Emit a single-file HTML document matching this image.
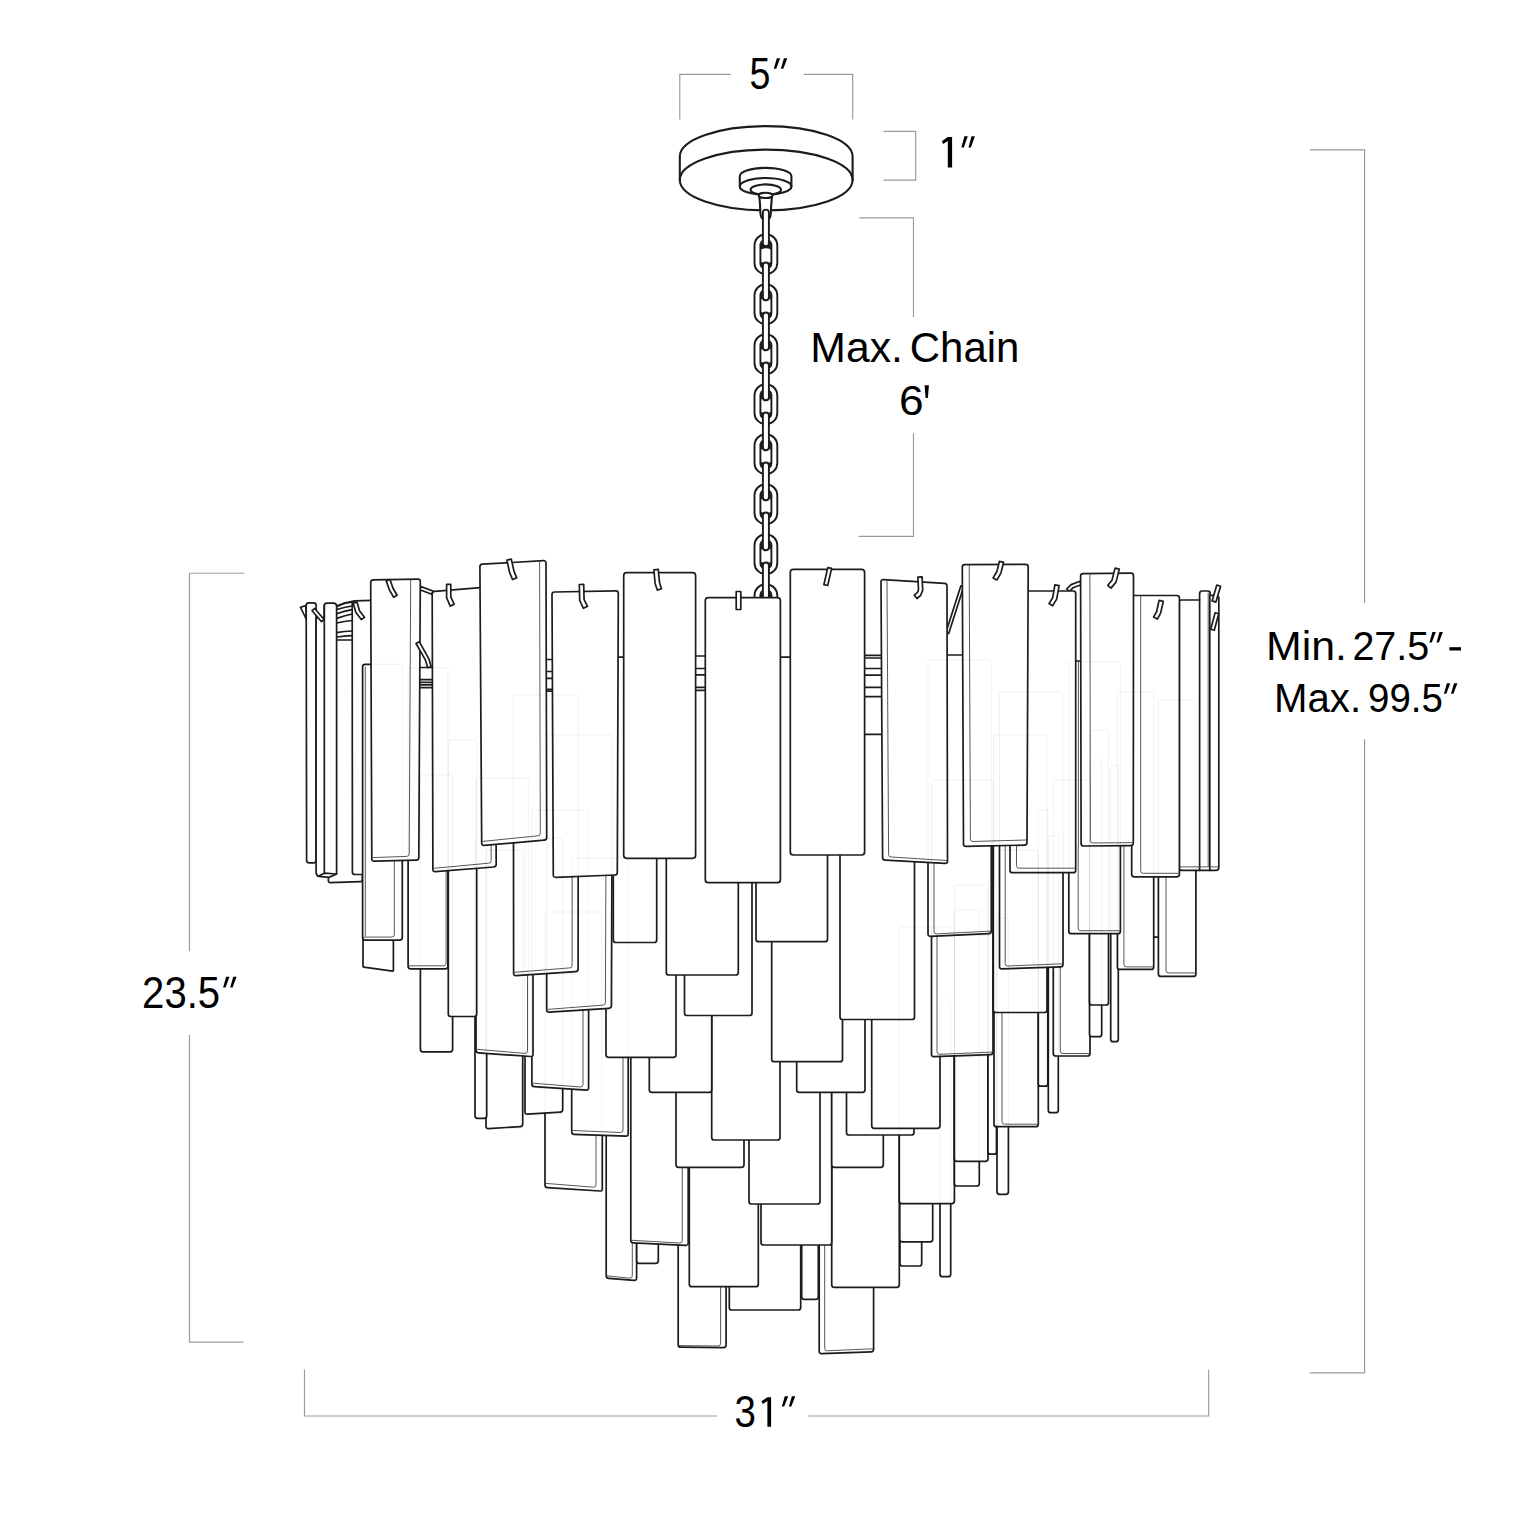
<!DOCTYPE html>
<html><head><meta charset="utf-8"><title>Chandelier dimensions</title>
<style>
html,body{margin:0;padding:0;background:#fff;}
body{width:1536px;height:1536px;overflow:hidden;}
svg{display:block;}
text{font-family:"Liberation Sans",sans-serif;fill:#000;}
.k{fill:#fff;stroke:#1c1c1c;stroke-width:1.7;stroke-linejoin:round;stroke-linecap:round;}
.n{fill:none;stroke:#1c1c1c;stroke-width:1.7;stroke-linejoin:round;stroke-linecap:round;}
.h{stroke-width:2.1;}
.h2{stroke-width:1.9;}
.f rect{fill:none;stroke:#000;stroke-opacity:0.055;stroke-width:1;}
.g{fill:none;stroke:#444;stroke-width:0.9;stroke-linecap:round;}
</style></head><body>
<svg width="1536" height="1536" viewBox="0 0 1536 1536">
<rect width="1536" height="1536" fill="#fff"/>
<!-- canopy -->
<path class="k h" d="M679.8,180 L679.8,156.5 A86.4,30.4 0 0 1 852.6,156.5 L852.6,180 A86.4,30.4 0 0 1 679.8,180Z"/>
<path class="n h" d="M679.8,180 A86.4,30.4 0 0 1 852.6,180"/>
<path class="k h" d="M739.8,186.4 L739.8,176.3 A25.8,8.4 0 0 1 791.4,176.3 L791.4,186.4 A25.8,8.4 0 0 1 739.8,186.4Z"/>
<path class="n h" d="M739.8,186.4 A25.8,8.4 0 0 1 791.4,186.4"/>
<path class="n h" d="M758.8,194.3 Q750.3,192.5 750.6,189.8 A15.2,5.4 0 0 1 781,189.8 Q781.2,192.5 772.6,194.3"/>
<path class="k h" d="M759.3,196.2 Q760.3,206 760.4,213 Q761,218.5 763,219 L768.5,219 Q770.6,218.5 770.8,213 Q771,206 772,196.2 Z"/>
<ellipse class="k h" cx="765.6" cy="195.4" rx="6.9" ry="2.6"/>
<!-- chain -->
<rect class="k h2" x="754.5" y="234.5" width="22.8" height="39.4" rx="10.5" ry="11"/>
<rect class="k h2" x="760.4" y="240.1" width="11" height="28.2" rx="4.5" ry="5"/>
<path d="M760.9,249.5 L760.9,244.0 Q761.3,241.5 763.3,240.8 L768.5,240.8 Q770.5,241.5 770.9,244.0 L770.9,249.5 Q765.9,247.1 760.9,249.5Z" fill="#1c1c1c"/>
<path d="M760.9,261.7 Q765.9,264.7 770.9,261.7 L770.9,264.9 L768.9,267.3 L762.9,267.3 L760.9,264.9Z" fill="#1c1c1c"/>
<rect class="k h2" x="754.5" y="284.5" width="22.8" height="39.4" rx="10.5" ry="11"/>
<rect class="k h2" x="760.4" y="290.1" width="11" height="28.2" rx="4.5" ry="5"/>
<path d="M760.9,299.5 L760.9,294.0 Q761.3,291.5 763.3,290.8 L768.5,290.8 Q770.5,291.5 770.9,294.0 L770.9,299.5 Q765.9,297.1 760.9,299.5Z" fill="#1c1c1c"/>
<path d="M760.9,311.7 Q765.9,314.7 770.9,311.7 L770.9,314.9 L768.9,317.3 L762.9,317.3 L760.9,314.9Z" fill="#1c1c1c"/>
<rect class="k h2" x="754.5" y="334.5" width="22.8" height="39.4" rx="10.5" ry="11"/>
<rect class="k h2" x="760.4" y="340.1" width="11" height="28.2" rx="4.5" ry="5"/>
<path d="M760.9,349.5 L760.9,344.0 Q761.3,341.5 763.3,340.8 L768.5,340.8 Q770.5,341.5 770.9,344.0 L770.9,349.5 Q765.9,347.1 760.9,349.5Z" fill="#1c1c1c"/>
<path d="M760.9,361.7 Q765.9,364.7 770.9,361.7 L770.9,364.9 L768.9,367.3 L762.9,367.3 L760.9,364.9Z" fill="#1c1c1c"/>
<rect class="k h2" x="754.5" y="384.5" width="22.8" height="39.4" rx="10.5" ry="11"/>
<rect class="k h2" x="760.4" y="390.1" width="11" height="28.2" rx="4.5" ry="5"/>
<path d="M760.9,399.5 L760.9,394.0 Q761.3,391.5 763.3,390.8 L768.5,390.8 Q770.5,391.5 770.9,394.0 L770.9,399.5 Q765.9,397.1 760.9,399.5Z" fill="#1c1c1c"/>
<path d="M760.9,411.7 Q765.9,414.7 770.9,411.7 L770.9,414.9 L768.9,417.3 L762.9,417.3 L760.9,414.9Z" fill="#1c1c1c"/>
<rect class="k h2" x="754.5" y="434.5" width="22.8" height="39.4" rx="10.5" ry="11"/>
<rect class="k h2" x="760.4" y="440.1" width="11" height="28.2" rx="4.5" ry="5"/>
<path d="M760.9,449.5 L760.9,444.0 Q761.3,441.5 763.3,440.8 L768.5,440.8 Q770.5,441.5 770.9,444.0 L770.9,449.5 Q765.9,447.1 760.9,449.5Z" fill="#1c1c1c"/>
<path d="M760.9,461.7 Q765.9,464.7 770.9,461.7 L770.9,464.9 L768.9,467.3 L762.9,467.3 L760.9,464.9Z" fill="#1c1c1c"/>
<rect class="k h2" x="754.5" y="484.5" width="22.8" height="39.4" rx="10.5" ry="11"/>
<rect class="k h2" x="760.4" y="490.1" width="11" height="28.2" rx="4.5" ry="5"/>
<path d="M760.9,499.5 L760.9,494.0 Q761.3,491.5 763.3,490.8 L768.5,490.8 Q770.5,491.5 770.9,494.0 L770.9,499.5 Q765.9,497.1 760.9,499.5Z" fill="#1c1c1c"/>
<path d="M760.9,511.7 Q765.9,514.7 770.9,511.7 L770.9,514.9 L768.9,517.3 L762.9,517.3 L760.9,514.9Z" fill="#1c1c1c"/>
<rect class="k h2" x="754.5" y="534.5" width="22.8" height="39.4" rx="10.5" ry="11"/>
<rect class="k h2" x="760.4" y="540.1" width="11" height="28.2" rx="4.5" ry="5"/>
<path d="M760.9,549.5 L760.9,544.0 Q761.3,541.5 763.3,540.8 L768.5,540.8 Q770.5,541.5 770.9,544.0 L770.9,549.5 Q765.9,547.1 760.9,549.5Z" fill="#1c1c1c"/>
<path d="M760.9,561.7 Q765.9,564.7 770.9,561.7 L770.9,564.9 L768.9,567.3 L762.9,567.3 L760.9,564.9Z" fill="#1c1c1c"/>
<rect class="k h2" x="754.5" y="584.5" width="22.8" height="39.4" rx="10.5" ry="11"/>
<rect class="k h2" x="760.4" y="590.1" width="11" height="28.2" rx="4.5" ry="5"/>
<path d="M760.9,599.5 L760.9,594.0 Q761.3,591.5 763.3,590.8 L768.5,590.8 Q770.5,591.5 770.9,594.0 L770.9,599.5 Q765.9,597.1 760.9,599.5Z" fill="#1c1c1c"/>
<path d="M760.9,611.7 Q765.9,614.7 770.9,611.7 L770.9,614.9 L768.9,617.3 L762.9,617.3 L760.9,614.9Z" fill="#1c1c1c"/>
<rect class="k h2" x="762.9" y="209.6" width="6.0" height="36.6" rx="3.0"/>
<rect class="k h2" x="762.9" y="262.5" width="6.0" height="37.8" rx="3.0"/>
<rect class="k h2" x="762.9" y="312.5" width="6.0" height="37.8" rx="3.0"/>
<rect class="k h2" x="762.9" y="362.5" width="6.0" height="37.8" rx="3.0"/>
<rect class="k h2" x="762.9" y="412.5" width="6.0" height="37.8" rx="3.0"/>
<rect class="k h2" x="762.9" y="462.5" width="6.0" height="37.8" rx="3.0"/>
<rect class="k h2" x="762.9" y="512.5" width="6.0" height="37.8" rx="3.0"/>
<rect class="k h2" x="762.9" y="562.5" width="6.0" height="39.5" rx="3.0"/>
<!-- left edge group -->
<path class="k" d="M328.4,642.0Q328.4,640.0 330.4,640.0L360.4,640.0Q362.4,640.0 362.4,642.0L362.4,879.5Q362.4,881.5 360.4,881.6L330.4,882.6Q328.4,882.7 328.4,880.7Z"/>
<path class="k" d="M363.0,700.8Q363.0,700.0 363.8,700.0L392.6,700.0Q393.4,700.0 393.4,700.8L393.4,970.4Q393.4,971.2 392.6,971.1L363.8,967.1Q363.0,967.0 363.0,966.2Z"/>
<path class="k" d="M352.2,603.4Q352.2,600.9 354.7,600.8L372.5,600.4Q375.0,600.3 375.0,602.8L375.0,872.0Q375.0,874.5 372.5,874.5L354.9,874.5Q352.4,874.5 352.4,872.0Z"/>
<!-- D39 -->
<path class="k" d="M819.2,1078.5Q819.2,1076.0 821.7,1076.0L871.1,1076.0Q873.6,1076.0 873.6,1078.5L873.6,1349.3Q873.6,1351.8 871.1,1351.9L821.7,1353.7Q819.2,1353.8 819.2,1351.3Z"/>
<path class="g" d="M824.7,1077.0L824.7,1348.3Q824.7,1350.8 827.2,1350.8L872.6,1348.8"/>
<!-- D36 -->
<path class="k" d="M678.2,1072.5Q678.2,1070.0 680.7,1070.0L723.6,1070.0Q726.1,1070.0 726.1,1072.5L726.1,1345.1Q726.1,1347.6 723.6,1347.6L680.7,1347.2Q678.2,1347.2 678.2,1344.7Z"/>
<path class="g" d="M720.6,1071.0L720.6,1343.5Q720.6,1346.0 718.1,1346.0L679.2,1345.6"/>
<!-- D37 -->
<path class="k" d="M729.3,1037.5Q729.3,1035.0 731.8,1035.0L798.2,1035.0Q800.7,1035.0 800.7,1037.5L800.7,1307.5Q800.7,1310.0 798.2,1310.0L731.8,1310.0Q729.3,1310.0 729.3,1307.5Z"/>
<!-- D38 -->
<path class="k" d="M801.7,1024.5Q801.7,1022.0 804.2,1022.0L815.8,1022.0Q818.3,1022.0 818.3,1024.5L818.3,1296.8Q818.3,1299.3 815.8,1299.3L804.2,1299.3Q801.7,1299.3 801.7,1296.8Z"/>
<!-- F12 -->
<path class="k" d="M831.7,1012.5Q831.7,1010.0 834.2,1010.0L896.8,1010.0Q899.3,1010.0 899.3,1012.5L899.3,1284.8Q899.3,1287.3 896.8,1287.3L834.2,1287.3Q831.7,1287.3 831.7,1284.8Z"/>
<!-- D34 -->
<path class="k" d="M689.3,1012.5Q689.3,1010.0 691.8,1010.0L755.8,1010.0Q758.3,1010.0 758.3,1012.5L758.3,1284.2Q758.3,1286.7 755.8,1286.7L691.8,1286.7Q689.3,1286.7 689.3,1284.2Z"/>
<!-- D31 -->
<path class="k" d="M606.2,1002.5Q606.2,1000.0 608.7,1000.0L634.1,1000.0Q636.6,1000.0 636.6,1002.5L636.6,1278.0Q636.6,1280.5 634.1,1280.3L608.7,1278.4Q606.2,1278.2 606.2,1275.7Z"/>
<path class="g" d="M632.3,1001.0L632.3,1275.7Q632.3,1278.2 629.8,1278.2L607.2,1275.9"/>
<!-- F20 -->
<path class="k" d="M940.0,1002.5Q940.0,1000.0 942.5,1000.0L948.2,1000.0Q950.7,1000.0 950.7,1002.5L950.7,1274.2Q950.7,1276.7 948.2,1276.7L942.5,1276.7Q940.0,1276.7 940.0,1274.2Z"/>
<!-- F19 -->
<path class="k" d="M900.0,992.5Q900.0,990.0 902.5,990.0L919.2,990.0Q921.7,990.0 921.7,992.5L921.7,1263.5Q921.7,1266.0 919.2,1266.0L902.5,1266.0Q900.0,1266.0 900.0,1263.5Z"/>
<!-- D33 -->
<path class="k" d="M636.7,987.5Q636.7,985.0 639.2,985.0L655.8,985.0Q658.3,985.0 658.3,987.5L658.3,1260.8Q658.3,1263.3 655.8,1263.3L639.2,1263.3Q636.7,1263.3 636.7,1260.8Z"/>
<!-- D35 -->
<path class="k" d="M761.0,970.5Q761.0,968.0 763.5,968.0L829.2,968.0Q831.7,968.0 831.7,970.5L831.7,1242.5Q831.7,1245.0 829.2,1245.0L763.5,1245.0Q761.0,1245.0 761.0,1242.5Z"/>
<!-- D32 -->
<path class="k" d="M630.8,968.5Q630.8,966.0 633.3,966.0L685.7,966.0Q688.2,966.0 688.2,968.5L688.2,1242.9Q688.2,1245.4 685.7,1245.3L633.3,1242.8Q630.8,1242.7 630.8,1240.2Z"/>
<path class="g" d="M682.3,967.0L682.3,1240.5Q682.3,1243.0 679.8,1243.0L631.8,1240.3"/>
<!-- F18 -->
<path class="k" d="M899.8,965.5Q899.8,963.0 902.3,963.0L930.2,963.0Q932.7,963.0 932.7,965.5L932.7,1239.3Q932.7,1241.8 930.2,1241.8L902.3,1241.8Q899.8,1241.8 899.8,1239.3Z"/>
<!-- D27 -->
<path class="k" d="M749.0,928.5Q749.0,926.0 751.5,926.0L817.5,926.0Q820.0,926.0 820.0,928.5L820.0,1201.5Q820.0,1204.0 817.5,1204.0L751.5,1204.0Q749.0,1204.0 749.0,1201.5Z"/>
<!-- F13 -->
<path class="k" d="M899.3,929.5Q899.3,927.0 901.8,927.0L951.9,927.0Q954.4,927.0 954.4,929.5L954.4,1201.1Q954.4,1203.6 951.9,1203.6L901.8,1203.6Q899.3,1203.6 899.3,1201.1Z"/>
<!-- F23 -->
<path class="k" d="M997.0,920.5Q997.0,918.0 999.5,918.0L1005.9,918.0Q1008.4,918.0 1008.4,920.5L1008.4,1191.8Q1008.4,1194.3 1005.9,1194.3L999.5,1194.3Q997.0,1194.3 997.0,1191.8Z"/>
<!-- D14 -->
<path class="k" d="M545.0,914.5Q545.0,912.0 547.5,912.0L599.8,912.0Q602.3,912.0 602.3,914.5L602.3,1188.7Q602.3,1191.2 599.8,1191.0L547.5,1187.6Q545.0,1187.4 545.0,1184.9Z"/>
<path class="g" d="M596.0,913.0L596.0,1184.7Q596.0,1187.2 593.5,1187.2L546.0,1183.4"/>
<!-- F17 -->
<path class="k" d="M954.4,912.5Q954.4,910.0 956.9,910.0L976.8,910.0Q979.3,910.0 979.3,912.5L979.3,1183.5Q979.3,1186.0 976.8,1186.0L956.9,1186.0Q954.4,1186.0 954.4,1183.5Z"/>
<!-- D26 -->
<path class="k" d="M676.0,892.5Q676.0,890.0 678.5,890.0L741.5,890.0Q744.0,890.0 744.0,892.5L744.0,1164.8Q744.0,1167.3 741.5,1167.3L678.5,1167.3Q676.0,1167.3 676.0,1164.8Z"/>
<!-- D29 -->
<path class="k" d="M831.7,892.5Q831.7,890.0 834.2,890.0L880.8,890.0Q883.3,890.0 883.3,892.5L883.3,1164.8Q883.3,1167.3 880.8,1167.3L834.2,1167.3Q831.7,1167.3 831.7,1164.8Z"/>
<!-- F16 -->
<path class="k" d="M954.4,887.5Q954.4,885.0 956.9,885.0L985.5,885.0Q988.0,885.0 988.0,887.5L988.0,1158.8Q988.0,1161.3 985.5,1161.3L956.9,1161.3Q954.4,1161.3 954.4,1158.8Z"/>
<!-- F16b -->
<path class="k" d="M988.0,882.5Q988.0,880.0 990.5,880.0L994.0,880.0Q996.5,880.0 996.5,882.5L996.5,1151.7Q996.5,1154.2 994.0,1154.2L990.5,1154.2Q988.0,1154.2 988.0,1151.7Z"/>
<!-- D24 -->
<path class="k" d="M711.7,864.5Q711.7,862.0 714.2,862.0L777.5,862.0Q780.0,862.0 780.0,864.5L780.0,1137.5Q780.0,1140.0 777.5,1140.0L714.2,1140.0Q711.7,1140.0 711.7,1137.5Z"/>
<!-- D13 -->
<path class="k" d="M571.7,860.5Q571.7,858.0 574.2,858.0L625.7,858.0Q628.2,858.0 628.2,860.5L628.2,1133.7Q628.2,1136.2 625.7,1136.1L574.2,1134.3Q571.7,1134.2 571.7,1131.7Z"/>
<path class="g" d="M623.0,859.0L623.0,1130.0Q623.0,1132.5 620.5,1132.5L572.7,1130.5"/>
<!-- D28 -->
<path class="k" d="M846.5,860.5Q846.5,858.0 849.0,858.0L911.5,858.0Q914.0,858.0 914.0,860.5L914.0,1132.5Q914.0,1135.0 911.5,1135.0L849.0,1135.0Q846.5,1135.0 846.5,1132.5Z"/>
<!-- D7 -->
<path class="k" d="M486.0,852.5Q486.0,850.0 488.5,850.0L520.2,850.0Q522.7,850.0 522.7,852.5L522.7,1123.9Q522.7,1126.4 520.2,1126.6L488.5,1128.6Q486.0,1128.8 486.0,1126.3Z"/>
<!-- D30 -->
<path class="k" d="M871.7,853.5Q871.7,851.0 874.2,851.0L937.5,851.0Q940.0,851.0 940.0,853.5L940.0,1125.8Q940.0,1128.3 937.5,1128.3L874.2,1128.3Q871.7,1128.3 871.7,1125.8Z"/>
<!-- F22 -->
<path class="k" d="M994.0,852.5Q994.0,850.0 996.5,850.0L1035.8,850.0Q1038.3,850.0 1038.3,852.5L1038.3,1124.2Q1038.3,1126.7 1035.8,1126.7L996.5,1126.7Q994.0,1126.7 994.0,1124.2Z"/>
<path class="g" d="M1002.0,851.0L1002.0,1121.7Q1002.0,1124.2 1004.5,1124.2L1037.3,1124.2"/>
<!-- D6 -->
<path class="k" d="M475.0,842.5Q475.0,840.0 477.5,840.0L484.2,840.0Q486.7,840.0 486.7,842.5L486.7,1115.8Q486.7,1118.3 484.2,1118.3L477.5,1118.3Q475.0,1118.3 475.0,1115.8Z"/>
<!-- D12 -->
<path class="k" d="M525.0,840.5Q525.0,838.0 527.5,838.0L560.2,838.0Q562.7,838.0 562.7,840.5L562.7,1109.5Q562.7,1112.0 560.2,1112.2L527.5,1114.2Q525.0,1114.4 525.0,1111.9Z"/>
<!-- F26 -->
<path class="k" d="M1048.3,838.5Q1048.3,836.0 1050.8,836.0L1055.8,836.0Q1058.3,836.0 1058.3,838.5L1058.3,1110.2Q1058.3,1112.7 1055.8,1112.7L1050.8,1112.7Q1048.3,1112.7 1048.3,1110.2Z"/>
<!-- D23 -->
<path class="k" d="M649.3,817.5Q649.3,815.0 651.8,815.0L709.2,815.0Q711.7,815.0 711.7,817.5L711.7,1089.8Q711.7,1092.3 709.2,1092.3L651.8,1092.3Q649.3,1092.3 649.3,1089.8Z"/>
<!-- D25 -->
<path class="k" d="M796.7,817.5Q796.7,815.0 799.2,815.0L862.5,815.0Q865.0,815.0 865.0,817.5L865.0,1089.8Q865.0,1092.3 862.5,1092.3L799.2,1092.3Q796.7,1092.3 796.7,1089.8Z"/>
<!-- D11 -->
<path class="k" d="M531.8,812.5Q531.8,810.0 534.3,810.0L586.2,810.0Q588.7,810.0 588.7,812.5L588.6,1087.8Q588.6,1090.3 586.1,1090.1L534.4,1086.7Q531.9,1086.5 531.9,1084.0Z"/>
<path class="g" d="M583.1,811.0L583.0,1084.5Q583.0,1087.0 580.5,1087.0L532.9,1083.2"/>
<!-- F25 -->
<path class="k" d="M1038.3,812.5Q1038.3,810.0 1040.8,810.0L1045.3,810.0Q1047.8,810.0 1047.8,812.5L1047.8,1083.7Q1047.8,1086.2 1045.3,1086.2L1040.8,1086.2Q1038.3,1086.2 1038.3,1083.7Z"/>
<!-- D21 -->
<path class="k" d="M771.7,786.5Q771.7,784.0 774.2,784.0L840.0,784.0Q842.5,784.0 842.5,786.5L842.5,1059.2Q842.5,1061.7 840.0,1061.7L774.2,1061.7Q771.7,1061.7 771.7,1059.2Z"/>
<!-- D16 -->
<path class="k" d="M606.0,782.5Q606.0,780.0 608.5,780.0L673.5,780.0Q676.0,780.0 676.0,782.5L676.0,1054.8Q676.0,1057.3 673.5,1057.3L608.5,1057.3Q606.0,1057.3 606.0,1054.8Z"/>
<!-- C4 -->
<path class="k" d="M931.5,782.5Q931.5,780.0 934.0,780.0L990.5,780.0Q993.0,780.0 993.0,782.5L993.0,1052.1Q993.0,1054.6 990.5,1054.7L934.0,1056.7Q931.5,1056.8 931.5,1054.3Z"/>
<path class="g" d="M937.0,781.0L937.0,1051.8Q937.0,1054.3 939.5,1054.3L992.0,1052.1"/>
<!-- F27 -->
<path class="k" d="M1053.3,782.5Q1053.3,780.0 1055.8,780.0L1087.5,780.0Q1090.0,780.0 1090.0,782.5L1090.0,1053.5Q1090.0,1056.0 1087.5,1056.0L1055.8,1056.0Q1053.3,1056.0 1053.3,1053.5Z"/>
<path class="g" d="M1060.3,781.0L1060.3,1051.0Q1060.3,1053.5 1062.8,1053.5L1089.0,1053.5"/>
<!-- B5 -->
<path class="k" d="M476.0,780.5Q476.0,778.0 478.5,778.0L530.5,778.0Q533.0,778.0 533.0,780.5L533.0,1054.2Q533.0,1056.7 530.5,1056.5L478.5,1052.8Q476.0,1052.6 476.0,1050.1Z"/>
<path class="g" d="M527.5,779.0L527.5,1050.9Q527.5,1053.4 525.0,1053.4L477.0,1049.3"/>
<!-- B3 -->
<path class="k" d="M420.4,777.5Q420.4,775.0 422.9,775.0L450.1,775.0Q452.6,775.0 452.6,777.5L452.6,1049.3Q452.6,1051.8 450.1,1051.8L422.9,1051.8Q420.4,1051.8 420.4,1049.3Z"/>
<!-- F31 -->
<path class="k" d="M1110.7,767.5Q1110.7,765.0 1113.2,765.0L1115.8,765.0Q1118.3,765.0 1118.3,767.5L1118.3,1039.2Q1118.3,1041.7 1115.8,1041.7L1113.2,1041.7Q1110.7,1041.7 1110.7,1039.2Z"/>
<!-- F30 -->
<path class="k" d="M1089.5,762.5Q1089.5,760.0 1092.0,760.0L1099.2,760.0Q1101.7,760.0 1101.7,762.5L1101.7,1034.2Q1101.7,1036.7 1099.2,1036.7L1092.0,1036.7Q1089.5,1036.7 1089.5,1034.2Z"/>
<!-- C2 -->
<path class="k" d="M840.0,744.5Q840.0,742.0 842.5,742.0L912.0,742.0Q914.5,742.0 914.5,744.5L914.5,1017.0Q914.5,1019.5 912.0,1019.5L842.5,1019.5Q840.0,1019.5 840.0,1017.0Z"/>
<!-- B4 -->
<path class="k" d="M448.3,742.5Q448.3,740.0 450.8,740.0L474.2,740.0Q476.7,740.0 476.7,742.5L476.7,1014.0Q476.7,1016.5 474.2,1016.5L450.8,1016.5Q448.3,1016.5 448.3,1014.0Z"/>
<!-- B10 -->
<path class="k" d="M684.5,740.5Q684.5,738.0 687.0,738.0L749.5,738.0Q752.0,738.0 752.0,740.5L752.0,1013.0Q752.0,1015.5 749.5,1015.5L687.0,1015.5Q684.5,1015.5 684.5,1013.0Z"/>
<!-- C9 -->
<path class="k" d="M993.3,737.5Q993.3,735.0 995.8,735.0L1044.5,735.0Q1047.0,735.0 1047.0,737.5L1047.0,1010.0Q1047.0,1012.5 1044.5,1012.5L995.8,1012.5Q993.3,1012.5 993.3,1010.0Z"/>
<!-- B7 -->
<path class="k" d="M546.7,737.5Q546.7,735.0 549.2,735.0L609.9,735.0Q612.4,735.0 612.4,737.5L611.4,1005.6Q611.4,1008.1 608.9,1008.3L549.2,1012.2Q546.7,1012.4 546.7,1009.9Z"/>
<path class="g" d="M606.4,736.0L605.4,1002.6Q605.4,1005.1 602.9,1005.1L547.7,1009.4"/>
<!-- F29 -->
<path class="k" d="M1089.5,732.5Q1089.5,730.0 1092.0,730.0L1106.0,730.0Q1108.5,730.0 1108.5,732.5L1108.5,1002.5Q1108.5,1005.0 1106.0,1005.0L1092.0,1005.0Q1089.5,1005.0 1089.5,1002.5Z"/>
<!-- C8 -->
<path class="k" d="M1158.4,702.5Q1158.4,700.0 1160.9,700.0L1193.4,700.0Q1195.9,700.0 1195.9,702.5L1195.9,973.9Q1195.9,976.4 1193.4,976.4L1160.9,976.4Q1158.4,976.4 1158.4,973.9Z"/>
<path class="g" d="M1166.0,701.0L1166.0,970.4Q1166.0,972.9 1168.5,972.9L1194.9,972.9"/>
<!-- B9 -->
<path class="k" d="M666.3,700.5Q666.3,698.0 668.8,698.0L735.8,698.0Q738.3,698.0 738.3,700.5L738.3,972.5Q738.3,975.0 735.8,975.0L668.8,975.0Q666.3,975.0 666.3,972.5Z"/>
<!-- B6 -->
<path class="k" d="M513.4,697.5Q513.4,695.0 515.9,695.0L575.8,695.0Q578.3,695.0 578.3,697.5L578.1,968.9Q578.1,971.4 575.6,971.6L516.1,975.6Q513.6,975.8 513.6,973.3Z"/>
<path class="g" d="M572.3,696.0L572.1,965.4Q572.1,967.9 569.6,967.9L514.6,972.3"/>
<!-- C7 -->
<path class="k" d="M1117.4,694.5Q1117.4,692.0 1119.9,692.0L1151.2,692.0Q1153.7,692.0 1153.7,694.5L1153.7,966.9Q1153.7,969.4 1151.2,969.4L1119.9,969.4Q1117.4,969.4 1117.4,966.9Z"/>
<path class="g" d="M1123.9,693.0L1123.9,964.4Q1123.9,966.9 1126.4,966.9L1152.7,966.9"/>
<!-- B2 -->
<path class="k" d="M408.1,670.0Q408.1,667.5 410.6,667.5L445.4,667.5Q447.9,667.5 447.9,670.0L447.9,966.3Q447.9,968.8 445.4,968.8L410.6,968.8Q408.1,968.8 408.1,966.3Z"/>
<path class="g" d="M446.1,668.5L446.1,963.3Q446.1,965.8 443.6,965.8L409.1,965.8"/>
<!-- C5 -->
<path class="k" d="M999.5,694.5Q999.5,692.0 1002.0,692.0L1060.5,692.0Q1063.0,692.0 1063.0,694.5L1063.0,964.3Q1063.0,966.8 1060.5,966.9L1002.0,968.9Q999.5,969.0 999.5,966.5Z"/>
<path class="g" d="M1005.2,693.0L1005.2,963.5Q1005.2,966.0 1007.7,966.0L1062.0,963.8"/>
<!-- B8 -->
<path class="k" d="M613.3,667.5Q613.3,665.0 615.8,665.0L654.2,665.0Q656.7,665.0 656.7,667.5L656.7,940.0Q656.7,942.5 654.2,942.5L615.8,942.5Q613.3,942.5 613.3,940.0Z"/>
<!-- C1 -->
<path class="k" d="M756.0,666.5Q756.0,664.0 758.5,664.0L825.0,664.0Q827.5,664.0 827.5,666.5L827.5,939.2Q827.5,941.7 825.0,941.7L758.5,941.7Q756.0,941.7 756.0,939.2Z"/>
<!-- B1 -->
<path class="k" d="M362.6,666.8Q362.6,664.3 365.1,664.3L399.8,664.3Q402.3,664.3 402.3,666.8L402.3,937.6Q402.3,940.1 399.8,940.1L365.1,940.1Q362.6,940.1 362.6,937.6Z"/>
<path class="g" d="M394.3,665.3L394.3,934.6Q394.3,937.1 391.8,937.1L363.6,937.1"/>
<!-- C3 -->
<path class="k" d="M928.0,662.5Q928.0,660.0 930.5,660.0L988.8,660.0Q991.3,660.0 991.3,662.5L991.3,931.1Q991.3,933.6 988.8,933.7L930.5,936.3Q928.0,936.4 928.0,933.9Z"/>
<path class="g" d="M934.0,661.0L934.0,931.4Q934.0,933.9 936.5,933.9L990.3,931.1"/>
<!-- C6 -->
<path class="k" d="M1068.8,664.5Q1068.8,662.0 1071.3,662.0L1117.9,662.0Q1120.4,662.0 1120.4,664.5L1120.4,931.2Q1120.4,933.7 1117.9,933.7L1071.3,933.7Q1068.8,933.7 1068.8,931.2Z"/>
<path class="g" d="M1078.2,663.0L1078.2,928.2Q1078.2,930.7 1080.7,930.7L1119.4,930.7"/>
<path class="n" d="M1153.9,937.2L1158.2,937.2"/>
<path class="g" d="M365.3,667.0L365.3,936.0"/>
<!-- left frame bars -->
<path class="n" d="M336.8,609.5 Q344,607.1 352,606.0"/>
<path class="n" d="M336.8,613.8 Q344,611.1 352,609.6"/>
<path class="n" d="M336.8,618.4 Q344,615.6 352,614.0"/>
<path class="n" d="M336.8,623.0 Q344,621.1 352,620.5"/>
<path class="n" d="M336.8,632.6 Q344,631.2 352,631.0"/>
<path class="n" d="M336.8,637.0 Q344,635.7 352,635.6"/>
<path class="n" d="M336.8,606.2 Q344,602.6 352.4,601.6" style="stroke-width:2.2"/>
<path class="k" d="M306.2,605.3Q306.2,602.8 308.7,602.8L313.6,602.8Q316.1,602.8 316.1,605.3L316.1,860.3Q316.1,862.8 313.6,862.8L309.1,862.8Q306.6,862.8 306.6,860.3Z"/>
<path class="k" d="M316.1,618 L316.1,872 Q316.2,875.6 318.5,876.4 L329,877.4 L336.6,874 L336.6,606 Q336.4,603.2 333.5,603.2 L327,603.2 Q324.2,603.3 324.2,606 L324.2,618Z"/>
<path class="n" d="M324.3,606.0L324.3,873.2"/>
<path class="n" d="M318.5,876.2L324.3,873.2L336.4,874.0"/>
<polygon class="k" points="300.4,607.2 305.8,605.6 306.2,619"/>
<polygon class="k" points="312.1,610.7 321.5,621.7 324.1,619.5 314.7,608.5"/>
<!-- gaps -->
<rect x="420.3" y="640.0" width="12.3" height="220.0" fill="#fff"/>
<path class="n" d="M420.3,667.5L432.6,667.5"/>
<path class="n" d="M420.3,679.6L432.6,679.6"/>
<path class="n" d="M420.3,682.4L432.6,682.4"/>
<path class="n" d="M420.3,684.8L432.6,684.8"/>
<path class="n" d="M420.3,687.6L432.6,687.6"/>
<rect x="546.3" y="600.0" width="5.9" height="240.0" fill="#fff"/>
<path class="n" d="M546.3,659.5L552.2,659.5"/>
<path class="n" d="M546.3,671.5L552.2,671.5"/>
<path class="n" d="M546.3,678.3L552.2,678.3"/>
<path class="n" d="M546.3,689.4L552.2,689.4"/>
<path class="n" d="M546.3,691.2L552.2,691.2"/>
<rect x="617.2" y="600.0" width="6.4" height="258.0" fill="#fff"/>
<path class="n" d="M617.2,657.2L623.6,657.2"/>
<rect x="695.5" y="605.0" width="9.8" height="253.0" fill="#fff"/>
<path class="n" d="M695.5,656.0L705.3,656.0"/>
<path class="n" d="M695.5,668.5L705.3,668.5"/>
<path class="n" d="M695.5,674.8L705.3,674.8"/>
<path class="n" d="M695.5,687.3L705.3,687.3"/>
<path class="n" d="M695.5,690.4L705.3,690.4"/>
<rect x="780.4" y="605.0" width="10.0" height="250.0" fill="#fff"/>
<path class="n" d="M780.4,657.2L790.4,657.2"/>
<rect x="864.5" y="590.0" width="16.7" height="265.0" fill="#fff"/>
<path class="n" d="M864.5,655.4L881.2,655.4"/>
<path class="n" d="M864.5,658.0L881.2,658.0"/>
<path class="n" d="M864.5,668.5L881.2,668.5"/>
<path class="n" d="M864.5,675.2L881.2,675.2"/>
<path class="n" d="M864.5,687.3L881.2,687.3"/>
<path class="n" d="M864.5,696.7L881.2,696.7"/>
<path class="n" d="M864.5,734.4L881.2,734.4"/>
<rect x="947.4" y="590.0" width="15.0" height="256.0" fill="#fff"/>
<path class="n" d="M947.4,655.0L962.4,655.0"/>
<rect x="1075.6" y="595.0" width="5.1" height="251.0" fill="#fff"/>
<path class="n" d="M1075.6,661.0L1080.7,661.0"/>
<path class="g" d="M1078.4,661.0L1078.4,846.0"/>
<polygon class="k" points="419.8,589.8 431.8,594.2 433.0,591.0 421.0,586.6"/>
<polygon class="k" points="960.8,586.0 945.9,632.5 948.7,633.5 963.6,587.0"/>
<polygon class="k" points="1069.3,591.6 1072.9,587.8 1081.2,584.7 1080.0,581.3 1071.1,584.6 1066.7,589.0"/>
<!-- top row -->
<path class="k" d="M432.2,594.1Q432.2,591.6 434.7,591.4L492.5,586.6Q495.0,586.4 495.0,588.9L496.2,864.3Q496.2,866.8 493.7,867.0L435.4,871.7Q432.9,871.9 432.9,869.4Z"/>
<path class="g" d="M490.0,587.4L491.2,860.7Q491.2,863.2 488.7,863.2L433.9,868.3"/>
<path class="k" d="M370.7,582.5Q370.7,580.0 373.2,579.9L417.8,579.1Q420.3,579.0 420.3,581.5L418.8,857.5Q418.8,860.0 416.3,860.1L374.3,861.1Q371.8,861.2 371.8,858.7Z"/>
<path class="g" d="M410.7,580.0L409.2,853.9Q409.2,856.4 406.7,856.4L372.8,857.6"/>
<path class="k" d="M479.9,566.8Q479.9,564.3 482.4,564.2L543.5,560.7Q546.0,560.6 546.0,563.1L546.7,837.5Q546.7,840.0 544.2,840.2L484.2,845.4Q481.7,845.6 481.7,843.1Z"/>
<path class="g" d="M539.6,561.6L540.3,833.3Q540.3,835.8 537.8,835.8L482.7,841.4"/>
<path class="k" d="M552.0,594.5Q552.0,592.0 554.5,592.0L615.8,590.8Q618.3,590.8 618.3,593.3L617.3,872.4Q617.3,874.9 614.8,875.0L555.8,877.3Q553.3,877.4 553.3,874.9Z"/>
<path class="k" d="M623.7,575.7Q623.7,572.7 626.7,572.7L692.6,572.7Q695.6,572.7 695.6,575.7L695.6,855.3Q695.6,858.3 692.6,858.3L626.7,858.3Q623.7,858.3 623.7,855.3Z"/>
<path class="k" d="M705.3,600.7Q705.3,597.7 708.3,597.7L777.4,597.7Q780.4,597.7 780.4,600.7L780.4,879.7Q780.4,882.7 777.4,882.7L708.3,882.7Q705.3,882.7 705.3,879.7Z"/>
<path class="k" d="M790.3,572.4Q790.3,569.4 793.3,569.4L861.6,569.4Q864.6,569.4 864.6,572.4L864.6,852.0Q864.6,855.0 861.6,855.0L793.3,855.0Q790.3,855.0 790.3,852.0Z"/>
<path class="k" d="M881.0,581.9Q881.0,579.4 883.5,579.6L944.5,583.4Q947.0,583.6 947.0,586.1L947.5,861.0Q947.5,863.5 945.0,863.4L885.1,860.1Q882.6,860.0 882.6,857.5Z"/>
<path class="g" d="M887.0,580.4L888.6,854.5Q888.6,857.0 891.1,857.0L946.5,860.5"/>
<path class="k" d="M1010.0,593.5Q1010.0,591.0 1012.5,591.0L1073.2,591.0Q1075.7,591.0 1075.7,593.5L1075.7,870.2Q1075.7,872.7 1073.2,872.7L1012.5,872.7Q1010.0,872.7 1010.0,870.2Z"/>
<path class="g" d="M1016.5,592.0L1016.5,865.7Q1016.5,868.2 1019.0,868.2L1074.7,868.2"/>
<path class="k" d="M962.3,567.1Q962.3,564.6 964.8,564.6L1025.7,564.4Q1028.2,564.4 1028.2,566.9L1027.0,842.5Q1027.0,845.0 1024.5,845.1L966.0,846.4Q963.5,846.5 963.5,844.0Z"/>
<path class="g" d="M969.2,565.6L970.4,839.0Q970.4,841.5 972.9,841.5L1026.0,840.0"/>
<path class="k" d="M1179.3,602 Q1179.3,600 1181.3,600 L1199.6,600 L1199.6,593.6 Q1199.7,591 1202.2,591 L1207.8,591 Q1210.2,591 1210.2,593.4 L1210.2,595.3 L1216.3,595.3 Q1218.8,595.4 1218.8,598 L1218.8,867.8 Q1218.7,870.4 1216.2,870.4 L1181.8,870.4 Q1179.3,870.4 1179.3,868 Z"/>
<path class="n" d="M1199.6,600.0L1199.6,870.4"/>
<path class="n" d="M1209.8,595.3L1209.8,870.4"/>
<path class="g" d="M1208.2,593.0L1208.2,866.5"/>
<path class="g" d="M1180.3,866.9L1217.8,866.9"/>
<path class="k" d="M1131.7,598.0Q1131.7,595.5 1134.2,595.5L1176.9,595.5Q1179.4,595.5 1179.4,598.0L1179.4,874.3Q1179.4,876.8 1176.9,876.8L1134.2,876.8Q1131.7,876.8 1131.7,874.3Z"/>
<path class="g" d="M1140.7,596.5L1140.7,870.8Q1140.7,873.3 1143.2,873.3L1178.4,873.3"/>
<path class="k" d="M1080.6,576.1Q1080.6,573.6 1083.1,573.6L1131.0,573.2Q1133.5,573.2 1133.5,575.7L1133.3,843.1Q1133.3,845.6 1130.8,845.6L1083.6,846.0Q1081.1,846.0 1081.1,843.5Z"/>
<path class="g" d="M1089.9,574.6L1090.4,840.5Q1090.4,843.0 1092.9,843.0L1132.3,842.6"/>
<!-- hooks -->
<polygon class="k" points="416.0,643.5 421.4,652.9 425.7,660.7 427.7,667.7 431.1,666.7 429.1,659.3 424.6,651.1 419.2,641.7"/>
<polygon class="k" points="353.2,603.1 355.9,612.6 361.3,619.6 364.5,617.2 359.5,610.8 357.0,602.1"/>
<polygon class="k" points="386.2,580.9 389.4,589.8 393.7,597.3 397.1,595.3 393.0,588.2 390.0,579.5"/>
<polygon class="k" points="446.6,584.4 446.6,597.7 450.2,606.1 454.2,604.3 450.8,596.9 450.8,584.4"/>
<polygon class="k" points="506.9,560.1 509.5,572.1 512.5,579.5 516.7,577.9 513.9,570.9 511.3,559.1"/>
<polygon class="k" points="579.3,584.5 579.7,600.5 583.5,608.3 587.5,606.3 584.1,599.7 583.7,584.3"/>
<polygon class="k" points="653.9,569.8 655.1,583.4 657.3,590.1 661.5,588.7 659.5,582.6 658.3,569.4"/>
<polygon class="k" points="736.2,591.5 736.2,609.5 740.8,609.5 740.8,591.5"/>
<polygon class="k" points="827.8,567.6 823.9,584.7 827.7,585.5 831.6,568.4"/>
<polygon class="k" points="917.9,577.1 918.5,589.9 917.3,592.7 914.2,595.1 917.0,598.5 920.7,595.3 922.7,590.1 922.1,576.9"/>
<polygon class="k" points="999.4,561.3 997.0,571.2 993.1,577.9 996.9,580.1 1001.0,572.8 1003.6,562.3"/>
<polygon class="k" points="1054.9,584.8 1052.7,597.7 1049.0,603.6 1052.6,605.8 1056.7,599.1 1059.1,585.6"/>
<polygon class="k" points="1115.1,568.1 1112.0,580.3 1107.8,585.3 1111.0,588.1 1116.0,582.1 1119.3,569.1"/>
<polygon class="k" points="1159.1,600.3 1156.6,611.8 1153.6,616.9 1157.4,619.1 1160.6,613.2 1163.3,601.3"/>
<polygon class="k" points="1216.8,585.0 1212.1,600.9 1215.9,602.1 1220.6,586.2"/>
<polygon class="k" points="1215.1,612.8 1210.7,629.2 1214.3,630.2 1218.7,613.8"/>
<!-- ghost lines -->
<g class="f">
<rect x="940.0" y="1000.0" width="10.7" height="276.7" rx="2.5"/>
<rect x="899.3" y="927.0" width="55.1" height="276.6" rx="2.5"/>
<rect x="997.0" y="918.0" width="11.4" height="276.3" rx="2.5"/>
<rect x="545.0" y="912.0" width="56.7" height="278.0" rx="2.5"/>
<rect x="954.4" y="910.0" width="24.9" height="276.0" rx="2.5"/>
<rect x="954.4" y="885.0" width="33.6" height="276.3" rx="2.5"/>
<rect x="988.0" y="880.0" width="8.5" height="274.2" rx="2.5"/>
<rect x="571.7" y="858.0" width="56.6" height="277.0" rx="2.5"/>
<rect x="486.0" y="850.0" width="36.7" height="278.3" rx="2.5"/>
<rect x="994.0" y="850.0" width="44.3" height="276.7" rx="2.5"/>
<rect x="475.0" y="840.0" width="11.7" height="278.3" rx="2.5"/>
<rect x="525.0" y="838.0" width="37.7" height="276.0" rx="2.5"/>
<rect x="1048.3" y="836.0" width="10.0" height="276.7" rx="2.5"/>
<rect x="531.7" y="810.0" width="56.6" height="278.3" rx="2.5"/>
<rect x="1038.3" y="810.0" width="9.5" height="276.2" rx="2.5"/>
<rect x="931.5" y="780.0" width="61.5" height="276.5" rx="2.5"/>
<rect x="1053.3" y="780.0" width="36.7" height="276.0" rx="2.5"/>
<rect x="476.0" y="778.0" width="52.3" height="277.0" rx="2.5"/>
<rect x="420.4" y="775.0" width="32.2" height="276.8" rx="2.5"/>
<rect x="1110.7" y="765.0" width="7.6" height="276.7" rx="2.5"/>
<rect x="1089.5" y="760.0" width="12.2" height="276.7" rx="2.5"/>
<rect x="448.3" y="740.0" width="28.4" height="276.5" rx="2.5"/>
<rect x="993.3" y="735.0" width="53.7" height="277.5" rx="2.5"/>
<rect x="546.7" y="735.0" width="65.3" height="276.0" rx="2.5"/>
<rect x="1089.5" y="730.0" width="19.0" height="275.0" rx="2.5"/>
<rect x="1158.4" y="700.0" width="37.5" height="276.4" rx="2.5"/>
<rect x="513.3" y="695.0" width="65.0" height="279.0" rx="2.5"/>
<rect x="1117.4" y="692.0" width="36.3" height="277.4" rx="2.5"/>
<rect x="408.1" y="667.5" width="39.8" height="301.3" rx="2.5"/>
<rect x="999.5" y="692.0" width="63.5" height="276.3" rx="2.5"/>
<rect x="362.6" y="664.3" width="39.7" height="275.8" rx="2.5"/>
<rect x="928.0" y="660.0" width="63.3" height="275.5" rx="2.5"/>
<rect x="1068.8" y="662.0" width="51.6" height="271.7" rx="2.5"/>
</g>
<polyline points="679.8,119.4 679.8,74.4 730.8,74.4" fill="none" stroke="#9a9a9a" stroke-width="1.15"/>
<polyline points="803.7,74.4 852.7,74.4 852.7,119.4" fill="none" stroke="#9a9a9a" stroke-width="1.15"/>
<polyline points="883.4,131.4 915.7,131.4 915.7,180.1 883.4,180.1" fill="none" stroke="#9a9a9a" stroke-width="1.15"/>
<polyline points="859.2,217.9 913.5,217.9 913.5,317.2" fill="none" stroke="#9a9a9a" stroke-width="1.15"/>
<polyline points="913.5,433.2 913.5,536.3 858.5,536.3" fill="none" stroke="#9a9a9a" stroke-width="1.15"/>
<polyline points="244.5,573.2 189.5,573.2 189.5,951.2" fill="none" stroke="#9a9a9a" stroke-width="1.15"/>
<polyline points="189.5,1034.8 189.5,1342.1 243.3,1342.1" fill="none" stroke="#9a9a9a" stroke-width="1.15"/>
<polyline points="1309.8,149.8 1364.6,149.8 1364.6,603.0" fill="none" stroke="#9a9a9a" stroke-width="1.15"/>
<polyline points="1364.6,739.2 1364.6,1372.8 1309.7,1372.8" fill="none" stroke="#9a9a9a" stroke-width="1.15"/>
<polyline points="304.5,1369.4 304.5,1416.0 717.0,1416.0" fill="none" stroke="#9a9a9a" stroke-width="1.15"/>
<polyline points="808.5,1416.0 1208.7,1416.0 1208.7,1369.7" fill="none" stroke="#9a9a9a" stroke-width="1.15"/>
<text x="749.6" y="88.7" font-size="44.3" text-anchor="start" textLength="20.9" lengthAdjust="spacingAndGlyphs">5</text>
<polygon points="776.8,58.2 780.2,58.2 776.2,68.8 773.8,68.8" fill="#000"/>
<polygon points="783.9,58.2 787.3,58.2 783.3,68.8 780.9,68.8" fill="#000"/>
<polygon points="947.8,137.1 952.1,137.1 952.1,167.6 947.8,167.6 947.8,140.9 943.2,143.9 941.8,141.2" fill="#000"/>
<polygon points="964.4,136.3 967.8,136.3 963.8,147.5 961.4,147.5" fill="#000"/>
<polygon points="971.5,136.3 974.9,136.3 970.9,147.5 968.5,147.5" fill="#000"/>
<text x="810.3" y="362.3" font-size="43" text-anchor="start" textLength="92.6" lengthAdjust="spacingAndGlyphs">Max.</text>
<text x="909.8" y="362.3" font-size="43" text-anchor="start" textLength="109.6" lengthAdjust="spacingAndGlyphs">Chain</text>
<text x="898.9" y="415.3" font-size="42.5" text-anchor="start" textLength="24.6" lengthAdjust="spacingAndGlyphs">6</text>
<polygon points="924.6,385.2 928.9,385.2 927.9,398.1 925.6,398.1" fill="#000"/>
<text x="142.1" y="1008.0" font-size="44.3" text-anchor="start" textLength="78.0" lengthAdjust="spacingAndGlyphs">23.5</text>
<polygon points="226.1,976.8 229.5,976.8 225.5,987.6 223.1,987.6" fill="#000"/>
<polygon points="233.2,976.8 236.6,976.8 232.6,987.6 230.2,987.6" fill="#000"/>
<text x="734.5" y="1426.9" font-size="44.3" text-anchor="start" textLength="21.4" lengthAdjust="spacingAndGlyphs">3</text>
<polygon points="767.4,1397.2 771.1,1397.2 771.1,1426.8 767.4,1426.8 767.4,1401.0 762.8,1404.0 761.4,1401.3" fill="#000"/>
<polygon points="784.8,1396.2 788.2,1396.2 784.2,1406.6 781.8,1406.6" fill="#000"/>
<polygon points="791.9,1396.2 795.3,1396.2 791.3,1406.6 788.9,1406.6" fill="#000"/>
<text x="1266.1" y="660.3" font-size="40.3" text-anchor="start" textLength="80.9" lengthAdjust="spacingAndGlyphs">Min.</text>
<text x="1352.4" y="660.3" font-size="41" text-anchor="start" textLength="76.9" lengthAdjust="spacingAndGlyphs">27.5</text>
<polygon points="1432.4,632.0 1435.8,632.0 1431.8,642.6 1429.4,642.6" fill="#000"/>
<polygon points="1439.5,632.0 1442.9,632.0 1438.9,642.6 1436.5,642.6" fill="#000"/>
<rect x="1449.4" y="647.2" width="11.6" height="3.3" fill="#000"/>
<text x="1274.1" y="711.6" font-size="40.3" text-anchor="start" textLength="87.0" lengthAdjust="spacingAndGlyphs">Max.</text>
<text x="1368.1" y="711.6" font-size="41" text-anchor="start" textLength="74.8" lengthAdjust="spacingAndGlyphs">99.5</text>
<polygon points="1446.9,683.2 1450.3,683.2 1446.3,693.8 1443.9,693.8" fill="#000"/>
<polygon points="1454.0,683.2 1457.4,683.2 1453.4,693.8 1451.0,693.8" fill="#000"/>
</svg>
</body></html>
